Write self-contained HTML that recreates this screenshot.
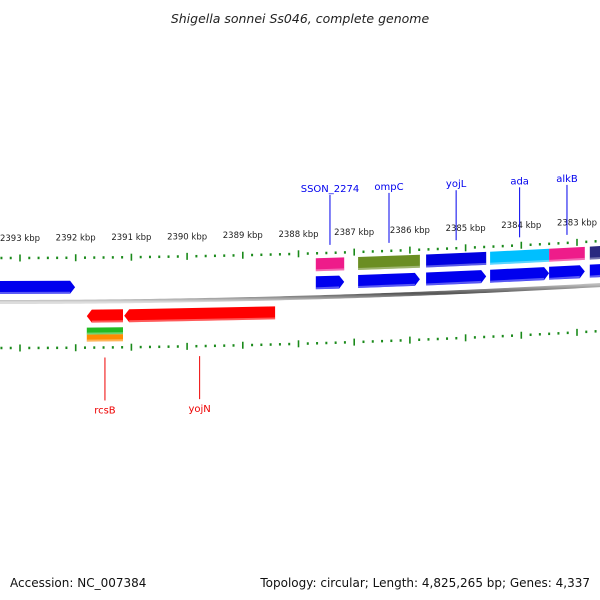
<!DOCTYPE html>
<html><head><meta charset="utf-8">
<style>
body{margin:0;background:#fff;}
svg{display:block;font-family:"DejaVu Sans","Liberation Sans",sans-serif;}
</style></head>
<body>
<svg id="chart" width="600" height="600" viewBox="0 0 600 600">
<defs>
<linearGradient id="bb" x1="0" y1="0" x2="0" y2="1">
<stop offset="0" stop-color="#bbb"/><stop offset="0.5" stop-color="#555"/><stop offset="1" stop-color="#ddd"/>
</linearGradient>
</defs>
<text x="300" y="23" text-anchor="middle" font-size="12.5" font-style="italic" fill="#222">Shigella sonnei Ss046, complete genome</text>
<g id="ticks"></g>
<g id="backbone"></g>
<g id="genes"></g>
<g id="labels"></g>
<text x="10" y="587" font-size="12" fill="#111">Accession: NC_007384</text>
<text x="590" y="587" text-anchor="end" font-size="12" fill="#111">Topology: circular; Length: 4,825,265 bp; Genes: 4,337</text>
</svg>
<script>
// data
const tickLabels = [2393,2392,2391,2390,2389,2388,2387,2386,2385,2384,2383];
const geneNames  = ["g0","SSON_2274","ompC","yojL","ada","alkB","g6","rcsB","yojN"];
const geneStart  = [2393.4,2387.69,2386.93,2385.71,2384.56,2383.50,2382.77,2391.80,2391.13];
const geneEnd    = [2392.01,2387.18,2385.82,2384.63,2383.50,2382.86,2382.40,2391.15,2388.42];
const geneStrand = [1,1,1,1,1,1,1,-1,-1];
const geneCog    = ["none","#ee1c8a","#6b8e23","#0000e0","#00bfff","#ee1c8a","#2a2a80","#22bb22|#ff8c00","none"];
const geneLabeled= [false,true,true,true,true,true,false,true,true];

const NS="http://www.w3.org/2000/svg";
function X(k){return 20+(2393-k)*55.7;}
function C(x){return 302-0.000047*x*x;}
function mk(tag,attrs,parent){const e=document.createElementNS(NS,tag);for(const a in attrs)e.setAttribute(a,attrs[a]);parent.appendChild(e);return e;}
const gT=document.getElementById('ticks'),gB=document.getElementById('backbone'),gG=document.getElementById('genes'),gL=document.getElementById('labels');

let d="";for(let x=-5;x<=605;x+=5){d+=(x<0?"M":"L")+x+","+C(x).toFixed(2);}
const bbp=mk('path',{d:d,stroke:"url(#bb)","stroke-width":4,fill:"none"},gB);



const kMin=2382.3,kMax=2393.5;
for(let n=Math.ceil(kMin*6);n<=Math.floor(kMax*6);n++){
  const k=n/6,x=X(k),c=C(x),major=(n%6===0);
  [-44,46].forEach(off=>{
    const len=major?7:2.5;
    const l=mk('line',{x1:x,x2:x,y1:c+off-len/2,y2:c+off+len/2,stroke:"#1a8a1a","stroke-width":major?1.6:2},gT);
    
    
  });
}
tickLabels.forEach(k=>{
  const x=X(k);
  const t=mk('text',{x:x,y:C(x)-61,"text-anchor":"middle","font-size":8.5,fill:"#222"},gT);
  t.textContent=k+" kbp";
  
  
});

function band(x1,x2,o1,o2,fill,arrowDir,name){
  const pts=[];const a=arrowDir?5:0;
  if(arrowDir===1){
    pts.push([x1,C(x1)+o1],[x2-a,C(x2-a)+o1],[x2,C(x2)+(o1+o2)/2],[x2-a,C(x2-a)+o2],[x1,C(x1)+o2]);
  }else if(arrowDir===-1){
    pts.push([x1,C(x1)+(o1+o2)/2],[x1+a,C(x1+a)+o1],[x2,C(x2)+o1],[x2,C(x2)+o2],[x1+a,C(x1+a)+o2]);
  }else{
    pts.push([x1,C(x1)+o1],[x2,C(x2)+o1],[x2,C(x2)+o2],[x1,C(x1)+o2]);
  }
  const p=mk('polygon',{points:pts.map(p=>p[0].toFixed(1)+","+p[1].toFixed(1)).join(" "),fill:fill},gG);
  
  
  const h=mk('line',{x1:x1+(arrowDir===-1?a:0),y1:C(x1)+o2-1,x2:x2-(arrowDir===1?a:0),y2:C(x2)+o2-1,stroke:"#fff","stroke-opacity":0.35,"stroke-width":2},gG);
  
  
}

for(let i=0;i<geneNames.length;i++){
  const xa=X(geneStart[i]),xb=X(geneEnd[i]);
  const x1=Math.min(xa,xb),x2=Math.max(xa,xb);
  const s=geneStrand[i];
  const arrowFill=s===1?"#0000ee":"#ff0000";
  if(s===1){
    band(x1,x2,-21,-8,arrowFill,1,geneNames[i]+'-gene-arrow');
    if(geneCog[i]!=="none") band(x1,x2,-39,-26,geneCog[i],0,geneNames[i]+'-cog-box');
  }else{
    band(x1,x2,8,21,arrowFill,-1,geneNames[i]+'-gene-arrow');
    if(geneCog[i]!=="none"){
      const cs=geneCog[i].split("|");
      band(x1,x2,26,33,cs[0],0,geneNames[i]+'-cog-box-1');
      if(cs[1]) band(x1,x2,33,40,cs[1],0,geneNames[i]+'-cog-box-2');
    }
  }
  if(geneLabeled[i]){
    const xm=(x1+x2)/2,c=C(xm),col=s===1?"#0000ee":"#ee0000";
    let y1,y2,ty;
    if(s===1){y1=c-52;y2=c-102;ty=c-105;}else{y1=c+56;y2=c+99;ty=c+112;}
    const l=mk('line',{x1:xm,x2:xm,y1:y1,y2:y2,stroke:col,"stroke-width":1},gL);
    
    
    const t=mk('text',{x:xm,y:ty,"text-anchor":"middle","font-size":10,fill:col},gL);
    t.textContent=geneNames[i];
    
    
  }
}
</script>
</body></html>
